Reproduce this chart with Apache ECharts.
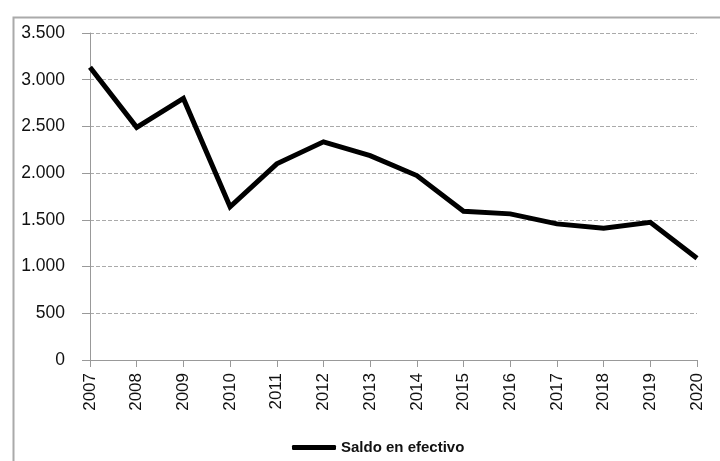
<!DOCTYPE html>
<html>
<head>
<meta charset="utf-8">
<script src="https://cdn.jsdelivr.net/npm/echarts@6/dist/echarts.min.js"></script>
<style>html,body{margin:0;padding:0;background:#fff}#c{width:720px;height:461px}</style>
</head>
<body>
<div id="c"></div>
<script>
const years = ['2007','2008','2009','2010','2011','2012','2013','2014','2015','2016','2017','2018','2019','2020'];
const saldo = [3134, 2490, 2800, 1640, 2100, 2335, 2188, 1974, 1592, 1564, 1457, 1410, 1474, 1090];
const seriesName = 'Saldo en efectivo';

const chart = echarts.init(document.getElementById('c'), null, {renderer: 'canvas'});
const fmt = v => v >= 1000 ? String(v).replace(/(\d)(\d{3})$/, '$1.$2') : String(v);
chart.setOption({
  animation: false,
  backgroundColor: '#fff',
  graphic: [{
    type: 'rect', left: 11, top: 15, silent: true,
    shape: {x: 0, y: 0, width: 760, height: 500},
    style: {fill: 'none', stroke: '#aaaaaa', lineWidth: 2}
  }],
  grid: {left: 90, right: 23, top: 33, bottom: 101, containLabel: false},
  legend: {
    top: 435, left: 287,
    itemWidth: 44, itemHeight: 5, itemGap: 8,
    icon: 'roundRect',
    textStyle: {fontFamily: 'Liberation Sans', fontSize: 15, fontWeight: 'bold', color: '#111'},
    data: [seriesName]
  },
  xAxis: {
    type: 'category', data: years, boundaryGap: false,
    axisLine: {lineStyle: {color: '#999', width: 1}},
    axisTick: {show: true, length: 7, alignWithLabel: true, lineStyle: {color: '#999'}},
    axisLabel: {rotate: 90, interval: 0, margin: 13, color: '#111', fontFamily: 'Liberation Sans', fontSize: 17},
    splitLine: {show: false}
  },
  yAxis: {
    type: 'value', min: 0, max: 3500, interval: 500,
    axisLine: {show: true, lineStyle: {color: '#999', width: 1}},
    axisTick: {show: true, length: 8, lineStyle: {color: '#999'}},
    axisLabel: {margin: 25, color: '#111', fontFamily: 'Liberation Sans', fontSize: 17.5, formatter: fmt},
    splitLine: {show: true, lineStyle: {color: '#aaa', type: [4, 2], width: 1}}
  },
  series: [{
    name: seriesName, type: 'line', data: saldo,
    symbol: 'none', lineStyle: {color: '#000', width: 5, join: 'miter'},
    itemStyle: {color: '#000'}
  }]
});
</script>
</body>
</html>
